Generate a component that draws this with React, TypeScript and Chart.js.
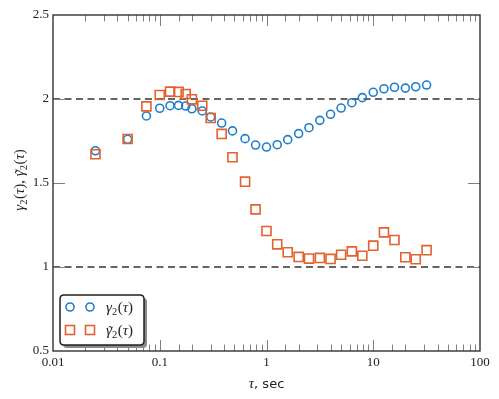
import React, { useEffect, useRef } from "react";
import { Chart, registerables } from "chart.js";
Chart.register(...registerables);

const tau = [0.025, 0.05, 0.075, 0.1, 0.125, 0.15, 0.175, 0.2, 0.25, 0.3, 0.38, 0.48, 0.63, 0.79, 1.0, 1.26, 1.58, 2.0, 2.5, 3.16, 3.98, 5.0, 6.3, 7.9, 10, 12.6, 15.8, 20, 25, 31.6];
const gamma2 = [1.692, 1.76, 1.899, 1.945, 1.96, 1.962, 1.958, 1.942, 1.929, 1.893, 1.857, 1.81, 1.764, 1.726, 1.714, 1.728, 1.758, 1.794, 1.829, 1.873, 1.909, 1.946, 1.978, 2.008, 2.04, 2.061, 2.07, 2.065, 2.073, 2.083];
const gamma2Tilde = [1.671, 1.762, 1.956, 2.024, 2.044, 2.042, 2.03, 1.998, 1.96, 1.887, 1.792, 1.653, 1.508, 1.343, 1.214, 1.135, 1.088, 1.06, 1.05, 1.054, 1.048, 1.073, 1.093, 1.067, 1.127, 1.206, 1.161, 1.058, 1.046, 1.1];
const refLevels = [1, 2];
const xRange = [0.01, 100];
const yRange = [0.5, 2.5];
const xTickLabels = ["0.01", "0.1", "1", "10", "100"];
const yTickLabels = ["0.5", "1", "1.5", "2", "2.5"];
const yTickStep = 0.5;
const seriesNames = ["γ₂(τ)", "γ̃₂(τ)"];
const xTitle = ["τ", ", sec"];

const BLUE = "#1f7ecb";
const ORANGE = "#e4612d";
const SERIF = '"Liberation Serif", "DejaVu Serif", serif';

type Run = { t: string; it?: boolean; sub?: boolean; tilde?: boolean };
function mathRuns(tilde: boolean): Run[] {
  return [
    { t: "γ", it: true, tilde },
    { t: "2", sub: true },
    { t: "(" },
    { t: "τ", it: true },
    { t: ")" },
  ];
}
function drawRuns(ctx: CanvasRenderingContext2D, runs: Run[], x: number, y: number, size: number, measureOnly = false) {
  let cx = x;
  for (const r of runs) {
    const fs = r.sub ? size * 0.7 : size;
    ctx.font = `${r.it ? "italic " : ""}${fs}px ${SERIF}`;
    const w = ctx.measureText(r.t).width;
    if (!measureOnly) {
      ctx.fillText(r.t, cx, r.sub ? y + size * 0.22 : y);
      if (r.tilde) {
        const tw = ctx.measureText("˜").width;
        ctx.fillText("˜", cx + w / 2 - tw / 2 + 1, y + 1);
      }
    }
    cx += w + (r.sub ? 0.5 : 0);
  }
  return cx - x;
}

const decorPlugin = {
  id: "decor",
  afterDraw(chart: any) {
    const ctx: CanvasRenderingContext2D = chart.ctx;
    const { left, right, top, bottom } = chart.chartArea;
    const xs = chart.scales.x;
    const ys = chart.scales.y;
    ctx.save();
    // ticks
    ctx.strokeStyle = "#808080";
    ctx.lineWidth = 1;
    ctx.beginPath();
    xs.ticks.forEach((t: any) => {
      const v = t.value;
      const lg = Math.log10(v);
      const major = Math.abs(lg - Math.round(lg)) < 1e-6;
      if (v <= xRange[0] * 1.0001 || v >= xRange[1] * 0.9999) return;
      const px = Math.round(xs.getPixelForValue(v)) + 0.5;
      const len = major ? 11 : 6.5;
      ctx.moveTo(px, bottom);
      ctx.lineTo(px, bottom - len);
      ctx.moveTo(px, top);
      ctx.lineTo(px, top + len);
    });
    ys.ticks.forEach((t: any) => {
      const v = t.value;
      if (v <= yRange[0] + 1e-6 || v >= yRange[1] - 1e-6) return;
      const py = Math.round(ys.getPixelForValue(v)) + 0.5;
      ctx.moveTo(left, py);
      ctx.lineTo(left + 12, py);
      ctx.moveTo(right, py);
      ctx.lineTo(right - 12, py);
    });
    ctx.stroke();
    // frame
    ctx.strokeStyle = "#333";
    ctx.lineWidth = 1.4;
    ctx.strokeRect(left, top, right - left, bottom - top);

    // x title
    ctx.fillStyle = "#222";
    ctx.textBaseline = "alphabetic";
    ctx.textAlign = "left";
    ctx.font = `italic 15px ${SERIF}`;
    const w1 = ctx.measureText(xTitle[0]).width;
    ctx.font = `13px "DejaVu Sans", sans-serif`;
    const w2 = ctx.measureText(xTitle[1]).width;
    const cxT = (left + right) / 2 - (w1 + w2) / 2;
    ctx.font = `italic 15px ${SERIF}`;
    ctx.fillText(xTitle[0], cxT, 388);
    ctx.font = `13px "DejaVu Sans", sans-serif`;
    ctx.fillText(xTitle[1], cxT + w1, 388);

    // y title
    ctx.save();
    ctx.translate(24, 180);
    ctx.rotate(-Math.PI / 2);
    const size = 15;
    const ra = mathRuns(false);
    const rb = mathRuns(true);
    const wa = drawRuns(ctx, ra, 0, 0, size, true);
    ctx.font = `${size}px ${SERIF}`;
    const wc = ctx.measureText(", ").width;
    const wb = drawRuns(ctx, rb, 0, 0, size, true);
    const sx = -(wa + wc + wb) / 2;
    drawRuns(ctx, ra, sx, 0, size);
    ctx.font = `${size}px ${SERIF}`;
    ctx.fillText(", ", sx + wa, 0);
    drawRuns(ctx, rb, sx + wa + wc, 0, size);
    ctx.restore();

    // legend
    const lx = 60, ly = 295, lw = 84, lh = 50, rr = 4;
    const rrect = (x: number, y: number) => {
      ctx.beginPath();
      ctx.moveTo(x + rr, y);
      ctx.lineTo(x + lw - rr, y);
      ctx.quadraticCurveTo(x + lw, y, x + lw, y + rr);
      ctx.lineTo(x + lw, y + lh - rr);
      ctx.quadraticCurveTo(x + lw, y + lh, x + lw - rr, y + lh);
      ctx.lineTo(x + rr, y + lh);
      ctx.quadraticCurveTo(x, y + lh, x, y + lh - rr);
      ctx.lineTo(x, y + rr);
      ctx.quadraticCurveTo(x, y, x + rr, y);
      ctx.closePath();
    };
    ctx.fillStyle = "#8a8a8a";
    rrect(lx + 3, ly + 3);
    ctx.fill();
    ctx.fillStyle = "#fff";
    rrect(lx, ly);
    ctx.fill();
    ctx.strokeStyle = "#222";
    ctx.lineWidth = 1.5;
    ctx.stroke();

    const rows = [307, 330];
    ctx.lineWidth = 1.6;
    [70, 90].forEach((mx) => {
      ctx.strokeStyle = BLUE;
      ctx.beginPath();
      ctx.arc(mx, rows[0], 4, 0, Math.PI * 2);
      ctx.stroke();
      ctx.strokeStyle = ORANGE;
      ctx.strokeRect(mx - 4.5, rows[1] - 4.5, 9, 9);
    });
    ctx.fillStyle = "#222";
    drawRuns(ctx, mathRuns(false), 106, rows[0] + 5, 15);
    drawRuns(ctx, mathRuns(true), 106, rows[1] + 5, 15);
    ctx.restore();
  },
};

export default function App() {
  const ref = useRef<HTMLCanvasElement>(null);
  useEffect(() => {
    document.body.style.margin = "0";
    const canvas = ref.current!;
    const chart = new Chart(canvas, {
      type: "scatter",
      data: {
        datasets: [
          {
            label: seriesNames[0],
            data: tau.map((x, i) => ({ x, y: gamma2[i] })),
            pointStyle: "circle",
            pointRadius: 4,
            pointBorderWidth: 1.6,
            borderColor: BLUE,
            backgroundColor: "rgba(0,0,0,0)",
            order: 1,
          },
          {
            label: seriesNames[1],
            data: tau.map((x, i) => ({ x, y: gamma2Tilde[i] })),
            pointStyle: "rect",
            pointRadius: 6.4,
            pointBorderWidth: 1.6,
            borderColor: ORANGE,
            backgroundColor: "rgba(0,0,0,0)",
            order: 0,
          },
          ...refLevels.map((lv) => ({
            type: "line" as const,
            label: "ref" + lv,
            data: [
              { x: xRange[0], y: lv },
              { x: xRange[1], y: lv },
            ],
            borderColor: "#333",
            borderWidth: 1.5,
            borderDash: [7, 4.5],
            pointRadius: 0,
            showLine: true,
            fill: false,
            order: 5,
          })),
        ],
      },
      options: {
        animation: false,
        responsive: false,
        devicePixelRatio: 1,
        layout: { padding: { top: 15, right: 19, left: 0, bottom: 0 } },
        plugins: { legend: { display: false }, tooltip: { enabled: false }, title: { display: false } },
        scales: {
          x: {
            type: "logarithmic",
            min: xRange[0],
            max: xRange[1],
            grid: { display: false, drawTicks: false },
            border: { display: false },
            afterFit: (s: any) => {
              s.height = 48;
            },
            ticks: {
              autoSkip: false,
              maxRotation: 0,
              padding: 4,
              color: "#222",
              font: { family: SERIF, size: 13 },
              callback: (v: any) => {
                const lg = Math.log10(Number(v));
                if (Math.abs(lg - Math.round(lg)) < 1e-6) {
                  const idx = Math.round(lg) + 2;
                  return xTickLabels[idx] ?? "";
                }
                return "";
              },
            },
          },
          y: {
            type: "linear",
            min: yRange[0],
            max: yRange[1],
            grid: { display: false, drawTicks: false },
            border: { display: false },
            afterFit: (s: any) => {
              s.width = 53;
            },
            ticks: {
              stepSize: yTickStep,
              padding: 4,
              color: "#222",
              font: { family: SERIF, size: 13 },
              callback: (v: any) => {
                const idx = Math.round((Number(v) - yRange[0]) / yTickStep);
                return yTickLabels[idx] ?? "";
              },
            },
          },
        },
      },
      plugins: [decorPlugin],
    } as any);
    return () => chart.destroy();
  }, []);
  return <canvas ref={ref} width={499} height={399} style={{ display: "block", width: 499, height: 399 }} />;
}
